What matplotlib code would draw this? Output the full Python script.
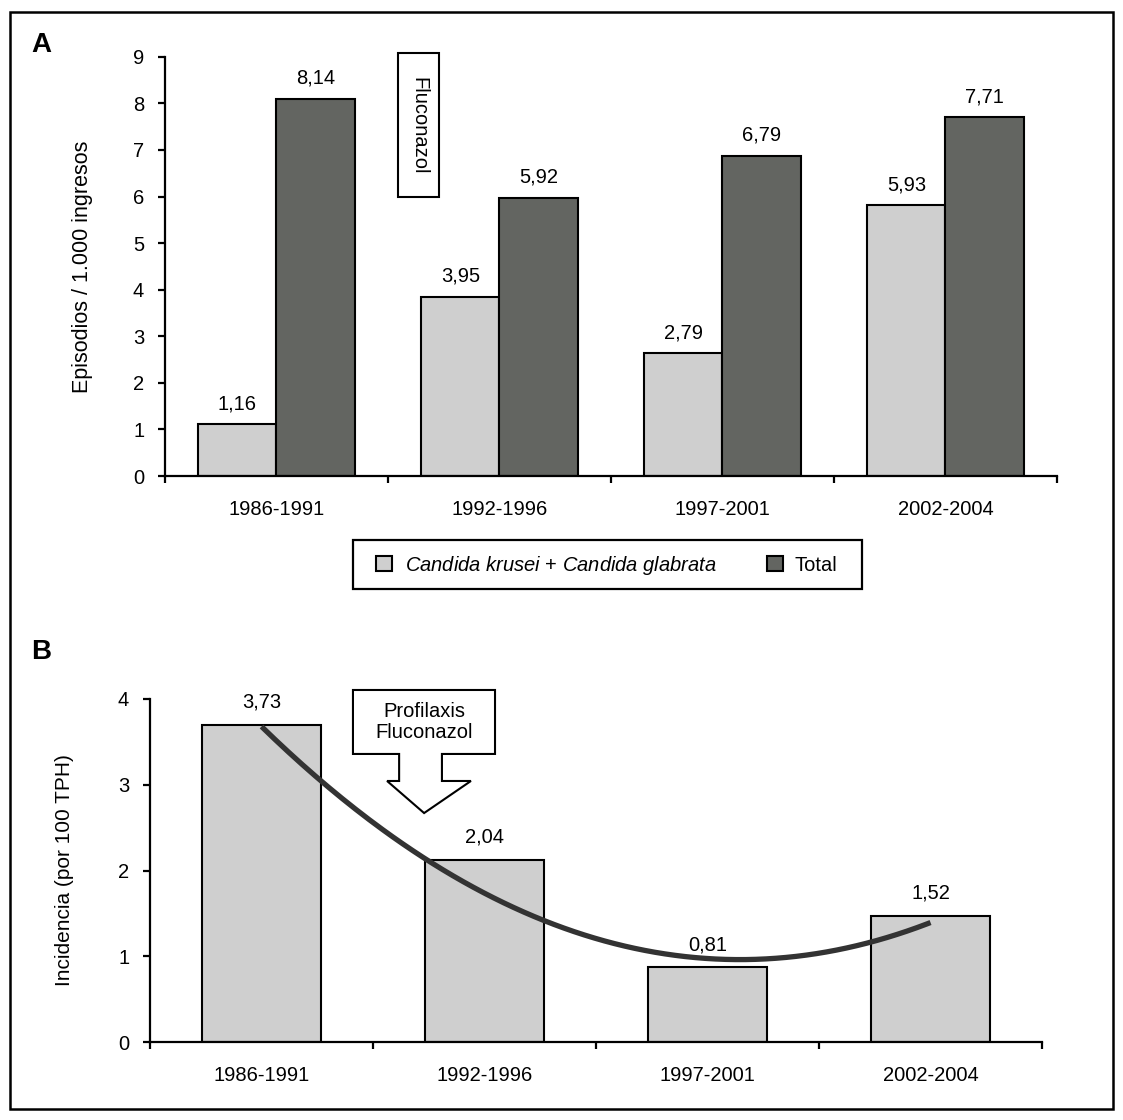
import numpy as np
import matplotlib
matplotlib.use("Agg")
import matplotlib.pyplot as plt
from matplotlib.patches import Rectangle, Polygon

plt.rcParams['font.family'] = ['Liberation Sans', 'DejaVu Sans']
plt.rcParams['mathtext.fontset'] = 'custom'
plt.rcParams['mathtext.it'] = 'Liberation Sans:italic'
plt.rcParams['mathtext.rm'] = 'Liberation Sans'

# data
periods = ["1986-1991", "1992-1996", "1997-2001", "2002-2004"]
krusei_glabrata = [1.11, 3.84, 2.63, 5.81]
krusei_glabrata_labels = ["1,16", "3,95", "2,79", "5,93"]
total = [8.09, 5.97, 6.87, 7.70]
total_labels = ["8,14", "5,92", "6,79", "7,71"]

incidence = [3.70, 2.12, 0.87, 1.47]
incidence_labels = ["3,73", "2,04", "0,81", "1,52"]
# trend line (x = period index)
trend_x = [0.0, 0.73, 2.0, 3.0]
trend_y = [3.70, 2.10, 1.01, 1.38]

LIGHT = "#cfcfcf"
DARK = "#636561"
FS = 14.5

fig = plt.figure(figsize=(11.23, 11.20), dpi=100)


def style_axes(ax, ymax):
    ax.spines['top'].set_visible(False)
    ax.spines['right'].set_visible(False)
    for s in ('left', 'bottom'):
        ax.spines[s].set_linewidth(1.6)
    ax.set_xlim(-0.5, 3.5)
    ax.set_ylim(0, ymax)
    ax.set_yticks(range(ymax + 1))
    ax.tick_params(axis='y', direction='out', length=5, width=1.6, pad=10, labelsize=FS)
    ax.set_xticks(np.arange(-0.5, 4.0, 1.0))
    ax.set_xticklabels([])
    ax.tick_params(axis='x', which='major', direction='out', length=5, width=1.6)
    ax.set_xticks(range(len(periods)), minor=True)
    ax.set_xticklabels(periods, minor=True)
    ax.tick_params(axis='x', which='minor', length=0, pad=17, labelsize=FS)


# panel A
axA = fig.add_axes([0.1469, 0.575, 0.7943, 0.3743])
x = np.arange(len(periods))
w = 0.35
bA1 = axA.bar(x - w / 2, krusei_glabrata, w, color=LIGHT, edgecolor='black', linewidth=1.5,
              label=r"$\mathit{Candida\ krusei}$ + $\mathit{Candida\ glabrata}$")
bA2 = axA.bar(x + w / 2, total, w, color=DARK, edgecolor='black', linewidth=1.5, label="Total")
for bars, labels in ((bA1, krusei_glabrata_labels), (bA2, total_labels)):
    for b, lab in zip(bars, labels):
        axA.annotate(lab, (b.get_x() + b.get_width() / 2, b.get_height()),
                     xytext=(0, 11), textcoords='offset points',
                     ha='center', va='baseline', fontsize=FS)
style_axes(axA, 9)
axA.set_ylabel("Episodios / 1.000 ingresos", fontsize=15.5)
axA.yaxis.set_label_coords(-0.081, 0.5)

# Fluconazol box
axA.add_patch(Rectangle((0.545, 5.99), 0.184, 3.09, facecolor='white', edgecolor='black',
                        linewidth=1.5, clip_on=False, zorder=5))
axA.text(0.637, 7.53, "Fluconazol", rotation=270, ha='center', va='center',
         fontsize=FS, zorder=6, clip_on=False)

# legend, frame drawn separately for wider side padding
fig.legend(handles=[bA1, bA2], loc='center', bbox_to_anchor=(0.5405, 0.4955), ncol=2,
           fontsize=FS, frameon=False, handlelength=0.8, handleheight=0.8,
           handletextpad=0.6, columnspacing=2.5)
fig.add_artist(Rectangle((353 / 1123, 1 - 589 / 1120), 509 / 1123, 49 / 1120,
                         transform=fig.transFigure, fill=False, edgecolor='black', linewidth=1.6))

# panel B
axB = fig.add_axes([0.1336, 0.0696, 0.7943, 0.3063])
bB = axB.bar(x, incidence, 0.534, color=LIGHT, edgecolor='black', linewidth=1.5)
for b, lab in zip(bB, incidence_labels):
    axB.annotate(lab, (b.get_x() + b.get_width() / 2, b.get_height()),
                 xytext=(0, 12.5), textcoords='offset points',
                 ha='center', va='baseline', fontsize=FS)
coef = np.polyfit(trend_x, trend_y, 2)
xs = np.linspace(trend_x[0], trend_x[-1], 200)
axB.plot(xs, np.polyval(coef, xs), color='#333333', linewidth=3.8, solid_capstyle='butt', zorder=4)
style_axes(axB, 4)
axB.set_ylabel("Incidencia (por 100 TPH)", fontsize=15)
axB.yaxis.set_label_coords(-0.085, 0.5)

# Profilaxis callout arrow
callout = [(0.410, 4.105), (1.047, 4.105), (1.047, 3.359), (0.809, 3.359), (0.809, 3.044),
           (0.939, 3.044), (0.729, 2.67), (0.563, 3.044), (0.617, 3.044), (0.617, 3.359),
           (0.410, 3.359)]
axB.add_patch(Polygon(callout, closed=True, facecolor='white', edgecolor='black',
                      linewidth=1.5, clip_on=False, zorder=5))
axB.text(0.729, 3.73, "Profilaxis\nFluconazol", ha='center', va='center', fontsize=FS,
         linespacing=1.15, zorder=6)

# panel letters and frame
fig.text(0.0365, 0.9598, "A", fontsize=20, fontweight='bold', ha='center', va='center')
fig.text(0.0365, 0.4178, "B", fontsize=20, fontweight='bold', ha='center', va='center')
fig.add_artist(Rectangle((0.0089, 0.0098), 0.9822, 0.9795, transform=fig.transFigure,
                         fill=False, edgecolor='black', linewidth=1.8))

fig.savefig("out.png", dpi=100)
